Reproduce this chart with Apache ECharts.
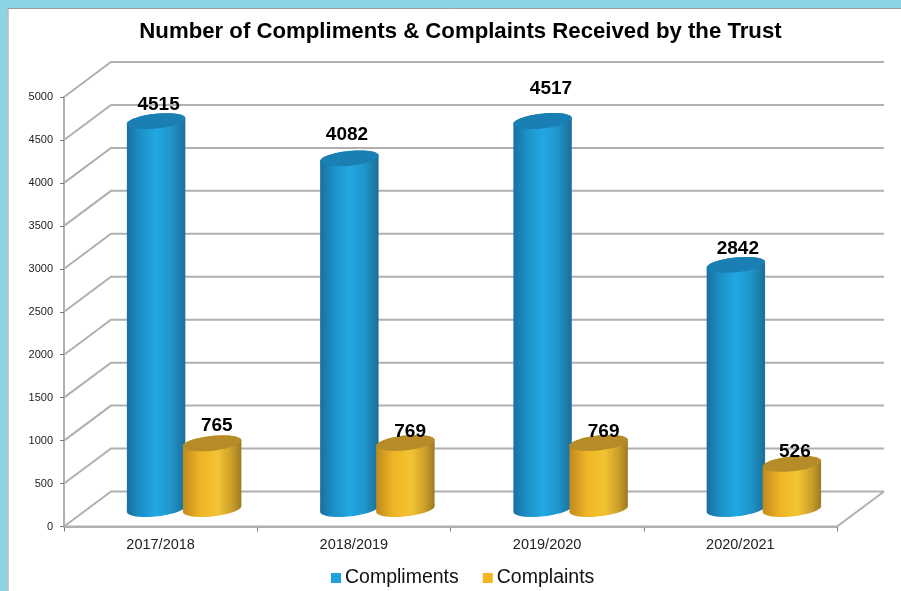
<!DOCTYPE html>
<html><head><meta charset="utf-8">
<style>html,body{margin:0;padding:0;background:#fff}#c{width:901px;height:591px}</style>
<script src="https://cdn.jsdelivr.net/npm/echarts@6/dist/echarts.min.js"></script>
</head><body><div id="c"></div>
<script>
const categories = ['2017/2018','2018/2019','2019/2020','2020/2021'];
const compliments = [4515,4082,4517,2842];
const complaints = [765,769,769,526];
const yTicks = [0,500,1000,1500,2000,2500,3000,3500,4000,4500,5000];
const seriesNames = ['Compliments','Complaints'];
const titleText = 'Number of Compliments & Complaints Received by the Trust';

// 3D projection look
const DX = 47, DY = -35;
const complimentsNudge = [[2.5,-16],[-2.4,-24],[8.4,-32],[2,-16]];
const complaintsNudge = [[4.6,-18],[4.7,-11],[5,-11],[3,-12]];
const FONT = '"Liberation Sans", Arial, sans-serif';

function gridItem(params, api){
  const cs = params.coordSys;
  const y = api.coord([0, api.value(1)])[1];
  const x0 = cs.x, x1 = cs.x + cs.width;
  const children = [{type:'polyline', shape:{points:[[x0,y],[x0+DX,y+DY],[x1+DX,y+DY]]},
    style:{fill:null, stroke:'#b0b0b0', lineWidth:2}}];
  if (api.value(1) === 0) {
    children.push({type:'polyline', shape:{points:[[x0,y],[x1,y],[x1+DX,y+DY]]},
      style:{fill:null, stroke:'#b0b0b0', lineWidth:2}});
  }
  return {type:'group', children};
}

const TILT = 6*Math.PI/180;
function ellipseArc(cx, cy, r, ry, from, to, steps){
  const pts = [];
  for (let k=0;k<=steps;k++){
    const t = from + (to-from)*k/steps;
    const ex = r*Math.cos(t), ey = ry*Math.sin(t);
    pts.push([cx + ex*Math.cos(TILT) + ey*Math.sin(TILT), cy - ex*Math.sin(TILT) + ey*Math.cos(TILT)]);
  }
  return pts;
}

function cylinder(opts){
  return function(params, api){
    const i = api.value(0), val = api.value(1);
    const band = api.size([1,0])[0];
    const c = api.coord([i, val]);
    const base = api.coord([i, 0]);
    const cx = c[0] + opts.shift*band + DX/2;
    const topY = c[1] + DY/2, baseY = base[1] + DY/2;
    const r = 0.152*band, ry = 7.4;
    const topArc = ellipseArc(cx, topY, r, ry, Math.PI, 2*Math.PI, 24);
    const baseArc = ellipseArc(cx, baseY, r, ry, 0, Math.PI, 24);
    const capPts = ellipseArc(cx, topY, r, ry, 0, 2*Math.PI, 48);
    const n = opts.nudge[i];
    return {type:'group', children:[
      {type:'polygon', shape:{points:topArc.concat(baseArc)},
       style:{fill:{type:'linear',x:0,y:0,x2:1,y2:0,colorStops:opts.stops}}},
      {type:'polygon', shape:{points:capPts}, style:{fill:opts.cap}},
      {type:'text', style:{text:String(val), x:cx+n[0], y:topY+n[1], align:'center', verticalAlign:'middle',
        font:'bold 19px '+FONT, fill:'#000'}}
    ]};
  };
}

const chart = echarts.init(document.getElementById('c'), null, {renderer:'canvas'});
chart.setOption({
  animation:false,
  backgroundColor:'#fff',
  title:{text:titleText, left:455.5, top:16, textAlign:'center',
    textStyle:{fontFamily:FONT, fontSize:22.2, fontWeight:'bold', color:'#000'}},
  graphic:[
    {type:'rect', silent:true, z:-1, shape:{x:0,y:0,width:901,height:8}, style:{fill:'#8ad4e6'}},
    {type:'rect', silent:true, z:-1, shape:{x:0,y:0,width:7.5,height:591}, style:{fill:'#8ad4e6'}},
    {type:'line', silent:true, z:-1, shape:{x1:7.5,y1:8.5,x2:901,y2:8.5}, style:{stroke:'#9a9a9a', lineWidth:1}},
    {type:'line', silent:true, z:-1, shape:{x1:8,y1:8,x2:8,y2:591}, style:{stroke:'#9a9a9a', lineWidth:1}}
  ],
  legend:{data:seriesNames, left:326, top:563, icon:'rect', itemWidth:10, itemHeight:10, itemGap:24, selectedMode:false,
    textStyle:{fontFamily:FONT, fontSize:19.5, color:'#111', padding:[0,0,0,-1]}},
  grid:{left:64, right:64, top:97, bottom:64.5},
  xAxis:{type:'category', data:categories, boundaryGap:true,
    axisLine:{lineStyle:{color:'#b0b0b0', width:2}},
    axisTick:{show:true, length:5, alignWithLabel:false, lineStyle:{color:'#777', width:1}},
    axisLabel:{fontFamily:FONT, fontSize:14.5, color:'#222', margin:11},
    z:1},
  yAxis:{type:'value', min:0, max:5000, interval:500,
    axisLine:{show:true, lineStyle:{color:'#b0b0b0', width:2}},
    axisTick:{show:true, length:4, lineStyle:{color:'#777', width:1}},
    splitLine:{show:false},
    axisLabel:{fontFamily:FONT, fontSize:11, color:'#222', margin:11, padding:[3,0,0,0],
      formatter:(v)=>String(v)}},
  series:[
    {type:'custom', name:'grid', silent:true, clip:false, renderItem:gridItem, encode:{x:0,y:1},
      data:yTicks.map(v=>[0,v])},
    {type:'custom', name:seriesNames[0], clip:false, itemStyle:{color:'#1f9fdc'}, encode:{x:0,y:1},
      renderItem:cylinder({shift:-0.145, nudge:complimentsNudge, cap:'#1a7fb3',
        stops:[{offset:0,color:'#1a6f9f'},{offset:0.22,color:'#1c8fc6'},{offset:0.5,color:'#22a8e2'},{offset:0.75,color:'#1f96cc'},{offset:1,color:'#1b6e98'}]}),
      data:compliments.map((v,i)=>[i,v])},
    {type:'custom', name:seriesNames[1], clip:false, itemStyle:{color:'#f2b61f'}, encode:{x:0,y:1},
      renderItem:cylinder({shift:0.145, nudge:complaintsNudge, cap:'#b58c28',
        stops:[{offset:0,color:'#c08a1e'},{offset:0.3,color:'#f0b526'},{offset:0.6,color:'#f2c433'},{offset:0.85,color:'#c99c28'},{offset:1,color:'#9c7a22'}]}),
      data:complaints.map((v,i)=>[i,v])}
  ]
});
</script></body></html>
